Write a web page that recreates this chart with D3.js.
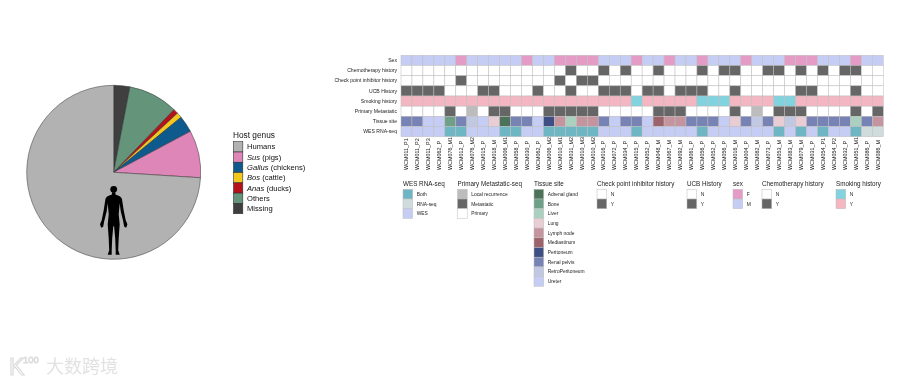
<!DOCTYPE html>
<html>
<head>
<meta charset="utf-8">
<script src="https://cdn.jsdelivr.net/npm/d3@7"></script>
<style>
  body { margin: 0; background: #fff; }
  svg { display: block; font-family: "Liberation Sans", Arial, sans-serif; }
  .soft { filter: blur(0.3px); }
</style>
</head>
<body>
<div id="chart"></div>
<script>
// Host genus pie
const genusNames = ['Missing', 'Others', 'Anas', 'Bos', 'Gallus', 'Sus', 'Humans'];
const genusValues = [3, 9.2, 0.9, 1, 3.1, 8.8, 74];
const genusColors = ['#3f3f3f', '#64957b', '#b5121b', '#f2c81e', '#0f5a8c', '#de86b8', '#b2b2b2'];
const legendGenus = [
  ['Humans', ''], ['Sus', ' (pigs)'], ['Gallus', ' (chickens)'], ['Bos', ' (cattle)'],
  ['Anas', ' (ducks)'], ['Others', ''], ['Missing', '']
];
const legendGenusColors = ['#b2b2b2', '#de86b8', '#0f5a8c', '#f2c81e', '#b5121b', '#64957b', '#3f3f3f'];

// Oncoprint samples
const samples = ['WCM011_P1', 'WCM011_P2', 'WCM011_P3', 'WCM062_P', 'WCM076_M1', 'WCM012_P', 'WCM076_M2', 'WCM015_P',
  'WCM018_M', 'WCM006_M1', 'WCM058_P', 'WCM030_P', 'WCM062_P', 'WCM006_M2', 'WCM010_M1', 'WCM031_M2',
  'WCM010_M3', 'WCM010_M2', 'WCM016_P', 'WCM072_P', 'WCM034_P', 'WCM015_P', 'WCM052_P', 'WCM048_M',
  'WCM067_M', 'WCM092_M', 'WCM061_P', 'WCM056_P', 'WCM052_P', 'WCM056_P', 'WCM016_M', 'WCM004_P',
  'WCM082_M', 'WCM073_P', 'WCM053_M', 'WCM083_M', 'WCM079_M', 'WCM031_P', 'WCM054_P1', 'WCM054_P2',
  'WCM032_P', 'WCM051_M1', 'WCM086_P', 'WCM086_M'];
const rowNames = ['Sex', 'Chemotherapy history', 'Check point inhibitor history', 'UCB History',
  'Smoking history', 'Primary Metastatic', 'Tissue site', 'WES RNA-seq'];

// one letter per sample
const sexRow = 'MMMMMFMMMMMFMMFFFFMMMFMMFMMFMMMFMMMFFFMMMFMM';
const chemoRow = 'NNNNNNNNNNNNNNNYNNYNYNNYNNNYNYYNNYYNYNYNYYNN';
const checkpointRow = 'NNNNNYNNNNNNNNYNYYNNNNNNNNNNNNNNNNNNNNNNNNNN';
const ucbRow = 'YYYYNNNYYNNNYNNYNNYYYNYYNYYYNNYNNNNNYYNNNYNN';
const smokingRow = 'YYYYYYYYYYYYYYYYYYYYYNYYYYYNNNYYYYNNYYYYYYYY';
const primaryRow = 'PPPPMPLPMMPPPMMMMMPPPPPMMMPPPPMPLPMMMPPPPMPM'; // P primary, M metastatic, L local recurrence
const tissueRow = ['Renal pelvis', 'Renal pelvis', 'Ureter', 'Ureter', 'Bone', 'Renal pelvis', 'RetroPeritoneum', 'Ureter',
  'Lung', 'Adrenal gland', 'Renal pelvis', 'Renal pelvis', 'Ureter', 'Peritoneum', 'Lymph node', 'Liver',
  'Lymph node', 'Lymph node', 'Renal pelvis', 'Ureter', 'Renal pelvis', 'Renal pelvis', 'Ureter', 'Mediastinum',
  'Lymph node', 'Lymph node', 'Renal pelvis', 'Renal pelvis', 'Renal pelvis', 'Ureter', 'Lung', 'Renal pelvis',
  'RetroPeritoneum', 'Renal pelvis', 'Lung', 'RetroPeritoneum', 'Lung', 'Renal pelvis', 'Renal pelvis', 'Renal pelvis',
  'Renal pelvis', 'Liver', 'Renal pelvis', 'Lymph node'];
const wesRow = 'WWWWBBWWWBBWWBBBBBWWWBWWWWWBWWWWWWBWBWBWWBRR'; // W WES, B both, R RNA-seq

const sexColors = { F: '#e49cc6', M: '#c6cdf5' };
const ynColors = { Y: '#666666', N: '#ffffff' };
const smokeColors = { N: '#80d3df', Y: '#f4b6c0' };
const primaryColors = { L: '#bcbcbc', M: '#666666', P: '#ffffff' };
const wesColors = { B: '#6fb6c4', R: '#d0dcdc', W: '#c6cdf5' };
const tissueNames = ['Adrenal gland', 'Bone', 'Liver', 'Lung', 'Lymph node', 'Mediastinum', 'Peritoneum',
  'Renal pelvis', 'RetroPeritoneum', 'Ureter'];
const tissueFill = ['#4c7359', '#6f9f87', '#abd0bf', '#e8cdd4', '#c4959e', '#9c636a', '#3e4f83', '#7783b4', '#c0c8e2', '#c6cdf5'];
const tissueColors = Object.fromEntries(tissueNames.map((d, i) => [d, tissueFill[i]]));

const rowColors = [
  i => sexColors[sexRow[i]],
  i => ynColors[chemoRow[i]],
  i => ynColors[checkpointRow[i]],
  i => ynColors[ucbRow[i]],
  i => smokeColors[smokingRow[i]],
  i => primaryColors[primaryRow[i]],
  i => tissueColors[tissueRow[i]],
  i => wesColors[wesRow[i]]
];

// Legend blocks of the oncoprint
const ynLabels = ['N', 'Y'];
const legends = [
  { title: 'WES RNA-seq', x: 403, labels: ['Both', 'RNA-seq', 'WES'], colors: ['#6fb6c4', '#d0dcdc', '#c6cdf5'] },
  { title: 'Primary Metastatic-seq', x: 457.5, labels: ['Local recurrence', 'Metastatic', 'Primary'], colors: ['#bcbcbc', '#666666', '#ffffff'] },
  { title: 'Tissue site', x: 534, labels: tissueNames, colors: tissueFill },
  { title: 'Check point inhibitor history', x: 597, labels: ynLabels, colors: ['#ffffff', '#666666'] },
  { title: 'UCB History', x: 687, labels: ynLabels, colors: ['#ffffff', '#666666'] },
  { title: 'sex', x: 733, labels: ['F', 'M'], colors: ['#e49cc6', '#c6cdf5'] },
  { title: 'Chemotherapy history', x: 762, labels: ynLabels, colors: ['#ffffff', '#666666'] },
  { title: 'Smoking history', x: 836, labels: ynLabels, colors: ['#80d3df', '#f4b6c0'] }
];

const svg = d3.select('#chart').append('svg').attr('width', 900).attr('height', 383);

// Pie
const drawPie = () => {
  const pieGroup = svg.append('g').attr('transform', 'translate(113.7, 172.3)');
  const arc = d3.arc().innerRadius(0).outerRadius(87);
  const arcs = d3.pie().sort(null)(genusValues);
  pieGroup.selectAll('path.slice')
    .data(arcs)
    .enter()
    .append('path')
    .attr('class', 'slice')
    .attr('d', arc)
    .attr('fill', (d, i) => genusColors[i])
    .attr('stroke', '#333')
    .attr('stroke-width', 0.5);

  // human silhouette
  const human = pieGroup.append('g').attr('fill', '#000');
  human.append('circle').attr('cx', 0).attr('cy', 17).attr('r', 3.4);
  human.append('path').attr('d',
    'M-1.5,20 L1.5,20 L2,22.5 C5,23.5 7.5,24 8.3,27 L10,38 L12,48 L13.7,52 L12.5,55.5 L10.5,54.5 L9.5,49 ' +
    'L7,39 L6,31 L5,42 L6,52 L5,66 L4.5,78 L6,82.5 L2,82.5 L2,78 L1.5,66 L0.4,54 L-0.4,54 L-1.5,66 L-2,78 ' +
    'L-2,82.5 L-6,82.5 L-4.5,78 L-5,66 L-6,52 L-5,42 L-6,31 L-7,39 L-9.5,49 L-10.5,54.5 L-12.5,55.5 ' +
    'L-13.7,52 L-12,48 L-10,38 L-8.3,27 C-7.5,24 -5,23.5 -2,22.5 Z');

  // pie legend
  const legend = svg.append('g').attr('class', 'soft').attr('transform', 'translate(233, 0)');
  legend.append('text')
    .attr('x', 0)
    .attr('y', 137.5)
    .attr('font-size', '8.3px')
    .attr('fill', '#111')
    .text('Host genus');
  const rowY = d3.scaleBand().domain(d3.range(legendGenus.length)).range([141.7, 213.7]);
  const rows = legend.selectAll('g.row')
    .data(legendGenus)
    .enter()
    .append('g')
    .attr('class', 'row')
    .attr('transform', (d, i) => `translate(0, ${rowY(i)})`);
  rows.append('rect')
    .attr('x', 0.5)
    .attr('width', 9.3)
    .attr('height', rowY.bandwidth())
    .attr('fill', (d, i) => legendGenusColors[i])
    .attr('stroke', '#333')
    .attr('stroke-width', 0.6);
  const labels = rows.append('text')
    .attr('x', 14)
    .attr('y', rowY.bandwidth() / 2 + 2.6)
    .attr('font-size', '7.6px')
    .attr('fill', '#111');
  labels.append('tspan')
    .attr('font-style', d => d[1] ? 'italic' : 'normal')
    .text(d => d[0]);
  labels.append('tspan').text(d => d[1]);
};

// Heatmap
const drawHeatmap = () => {
  const x = d3.scaleBand().domain(d3.range(samples.length)).range([401, 883.3]);
  const y = d3.scaleBand().domain(d3.range(rowNames.length)).range([55.3, 136.7]);
  const heat = svg.append('g').attr('class', 'soft');
  rowNames.forEach((name, r) => {
    heat.selectAll(`rect.row${r}`)
      .data(samples)
      .enter()
      .append('rect')
      .attr('class', `row${r}`)
      .attr('x', (d, i) => x(i))
      .attr('y', y(r))
      .attr('width', x.bandwidth())
      .attr('height', y.bandwidth())
      .attr('fill', (d, i) => rowColors[r](i))
      .attr('stroke', '#bdbdbd')
      .attr('stroke-width', 0.5);
    heat.append('text')
      .attr('x', 397)
      .attr('y', y(r) + y.bandwidth() / 2 + 1.7)
      .attr('text-anchor', 'end')
      .attr('font-size', '5.1px')
      .attr('fill', '#222')
      .text(name);
  });
  samples.forEach((s, i) => {
    const cx = x(i) + x.bandwidth() / 2 + 1.7;
    heat.append('text')
      .attr('transform', `translate(${cx}, 170) rotate(-90)`)
      .attr('font-size', '5.4px')
      .attr('fill', '#222')
      .text(s);
  });
};

// Legends under the heatmap
const drawLegends = () => {
  const cellH = 9.7;
  const cellW = 9.7;
  const box = svg.append('g').attr('class', 'soft');
  legends.forEach(l => {
    const g = box.append('g').attr('transform', `translate(${l.x}, 0)`);
    g.append('text')
      .attr('x', 0)
      .attr('y', 185.5)
      .attr('font-size', '6.3px')
      .attr('fill', '#222')
      .text(l.title);
    l.labels.forEach((lab, i) => {
      g.append('rect')
        .attr('x', 0)
        .attr('y', 189.3 + i * cellH)
        .attr('width', cellW)
        .attr('height', cellH)
        .attr('fill', l.colors[i])
        .attr('stroke', '#bdbdbd')
        .attr('stroke-width', 0.5);
      g.append('text')
        .attr('x', cellW + 4)
        .attr('y', 189.3 + i * cellH + cellH / 2 + 1.7)
        .attr('font-size', '4.9px')
        .attr('fill', '#222')
        .text(lab);
    });
  });
};

// Watermark
const drawWatermark = () => {
  const mark = svg.append('g').attr('class', 'soft');
  mark.append('text')
    .attr('x', 9)
    .attr('y', 375)
    .attr('font-size', '23px')
    .attr('fill', 'none')
    .attr('stroke', '#dcdcdc')
    .attr('stroke-width', 1.2)
    .text('K');
  mark.append('text')
    .attr('x', 23)
    .attr('y', 363)
    .attr('font-size', '9.5px')
    .attr('fill', 'none')
    .attr('stroke', '#dcdcdc')
    .attr('stroke-width', 0.8)
    .text('100');
  mark.append('text')
    .attr('x', 46)
    .attr('y', 373)
    .attr('font-size', '18px')
    .attr('fill', '#e2e2e2')
    .attr('font-family', '"Noto Sans CJK SC"')
    .text('大数跨境');
};

drawPie();
drawHeatmap();
drawLegends();
drawWatermark();
</script>
</body>
</html>
